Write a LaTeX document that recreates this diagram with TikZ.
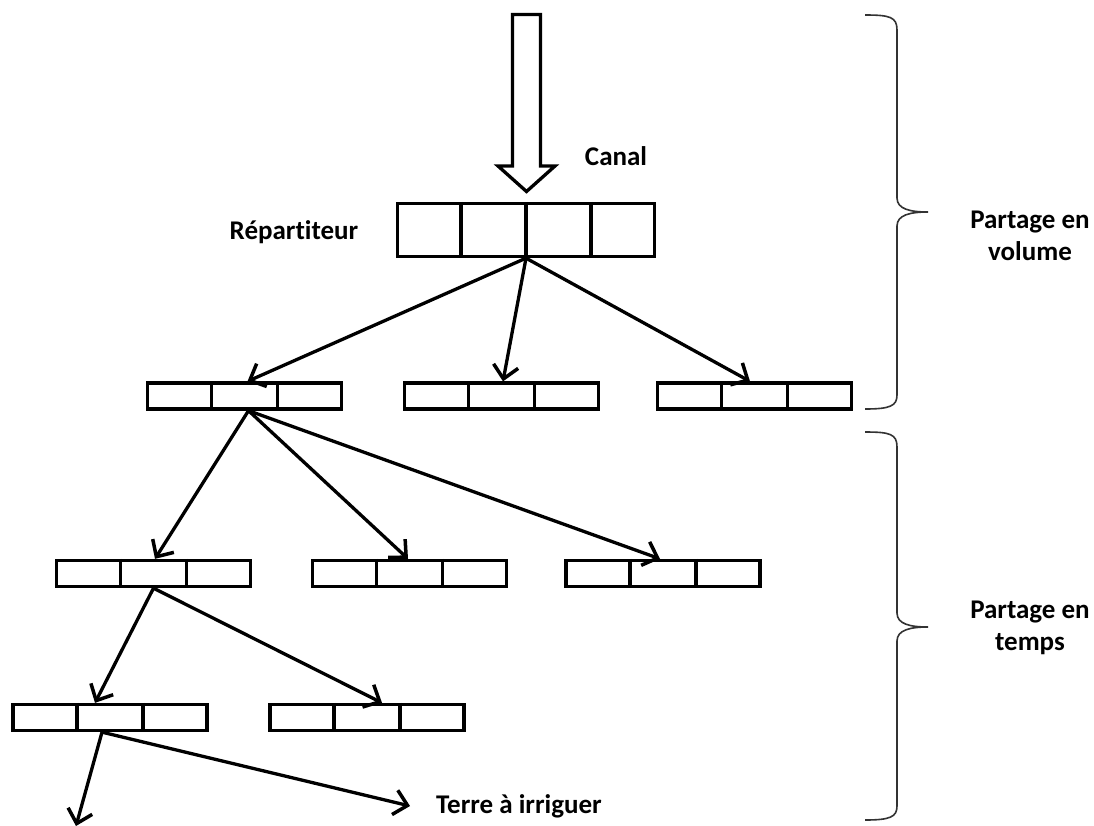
\documentclass[tikz,border=0pt]{standalone}
\usepackage{fontspec}
\setmainfont{Carlito}[Ligatures=NoCommon]
\usetikzlibrary{arrows.meta,calc}
\begin{document}
\begin{tikzpicture}[x=1pt,y=-1pt,
  lbl/.style={font=\bfseries\fontsize{27}{32}\selectfont, inner sep=0pt, align=center},
  cellrow/.style={draw, line width=3.3pt, inner sep=0pt, minimum width=194pt, minimum height=26pt},
  divider/.style={line width=3.3pt},
  flow/.style={line width=3.3pt, -{Straight Barb[length=13pt,width=25pt,line width=3.5pt]}},
  bracket/.style={line width=1.6pt, draw=black!80}]
\useasboundingbox (0,0) rectangle (1094,825);

% distributor (four cells)
\node[cellrow, minimum width=257pt, minimum height=53pt] (rep) at (526,230) {};
\foreach \f in {1,2,3}
  \draw[divider] ($(rep.north west)!\f/4!(rep.north east)$) -- ($(rep.south west)!\f/4!(rep.south east)$);

% secondary channels (three cells each)
\node[cellrow] (l2a) at (244.5,396) {};
\node[cellrow] (l2b) at (501.5,396) {};
\node[cellrow] (l2c) at (754.5,396) {};
\node[cellrow] (l3a) at (153.5,573.5) {};
\node[cellrow] (l3b) at (409.5,573.5) {};
\node[cellrow] (l3c) at (663,573.5) {};
\node[cellrow] (l4a) at (110,717.5) {};
\node[cellrow] (l4b) at (367,717.5) {};
\foreach \n in {l2a,l2b,l2c,l3a,l3b,l3c,l4a,l4b}
  \foreach \f in {1,2}
    \draw[divider] ($(\n.north west)!\f/3!(\n.north east)$) -- ($(\n.south west)!\f/3!(\n.south east)$);

% inflow arrow (hollow)
\draw[line width=3.3pt, line join=miter] (512.5,14.5) -- (540.5,14.5) -- (540.5,166) -- (555,166)
  -- (526.5,191.5) -- (498,166) -- (512.5,166) -- cycle;

% labels
\node[lbl] (canal) at (616,156) {Canal};
\node[lbl] (replbl) at (294,232) {Répartiteur};
\node[lbl, anchor=west] (terre) at (436,806) {Terre à irriguer};
\node[lbl] (vol) at (1030,236) {Partage en\\volume};
\node[lbl] (tps) at (1030,628) {Partage en\\temps};
\coordinate (field) at (76,826);

% distribution arrows
\draw[flow] (rep.south) -- ([xshift=3pt]l2a.north);
\draw[flow] (rep.south) -- ([xshift=1.5pt]l2b.north);
\draw[flow] (rep.south) -- ([xshift=-4.5pt]l2c.north);
\draw[flow] ([xshift=4pt]l2a.south) -- ([xshift=1.5pt]l3a.north);
\draw[flow] ([xshift=4pt]l2a.south) -- ([xshift=-1.5pt]l3b.north);
\draw[flow] ([xshift=4pt]l2a.south) -- ([xshift=-3pt]l3c.north);
\draw[flow] (l3a.south) -- ([xshift=-15pt]l4a.north);
\draw[flow] (l3a.south) -- ([xshift=15pt]l4b.north);
\draw[flow] ([xshift=-8pt]l4a.south) -- (field);
\draw[flow] ([xshift=-8pt]l4a.south) -- ([xshift=-26pt]terre.west);

% braces
\draw[bracket] (865,15) .. controls (890,15) and (897,17) .. (897,30) -- (897,198)
  .. controls (897,209) and (910,212) .. (928,212)
  .. controls (910,212) and (897,215) .. (897,226) -- (897,395)
  .. controls (897,406) and (890,409) .. (865,409);
\draw[bracket] (865,432) .. controls (890,432) and (897,434) .. (897,447) -- (897,613)
  .. controls (897,624) and (910,627) .. (928,627)
  .. controls (910,627) and (897,630) .. (897,641) -- (897,806)
  .. controls (897,817) and (890,820) .. (865,820);
\end{tikzpicture}
\end{document}
